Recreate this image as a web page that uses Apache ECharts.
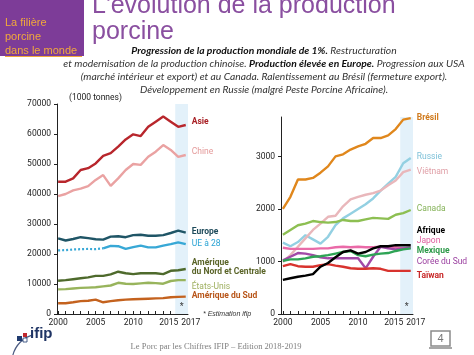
<!DOCTYPE html>
<html><head><meta charset="utf-8">
<script src="https://cdn.jsdelivr.net/npm/echarts@6/dist/echarts.min.js"></script>
<style>html,body{margin:0;padding:0;background:#fff;overflow:hidden}#c{width:474px;height:355px}</style>
</head><body><div id="c"></div>
<script>
// ---------- DATA ----------
const years = [2000,2001,2002,2003,2004,2005,2006,2007,2008,2009,2010,2011,2012,2013,2014,2015,2016,2017];
const xTickLabels = [2000,2005,2010,2015,2017];
// Left chart (1000 tonnes)
const leftNames = ['Asie','Chine','Europe','UE à 28','Amérique\ndu Nord et Centrale','États-Unis','Amérique du Sud'];
const asie   = [44100,44100,45200,48000,48600,50200,52700,53600,55800,58200,59900,59300,62400,64100,65800,64100,62400,63000];
const chine  = [39300,40000,41200,41800,42600,44700,46300,42700,45200,48000,50000,49700,52400,54100,56300,54700,52400,53000];
const europe = [25200,24500,25000,25600,25300,24900,24800,25800,25900,25600,26300,26400,26100,26100,26300,27000,27800,27100];
const ue28   = [21200,21300,21500,21600,21700,21600,21900,22700,22600,21700,22300,22800,22200,22200,22800,23300,23900,23300];
const amNord = [11100,11300,11600,11900,12200,12700,12700,13200,14100,13600,13300,13600,13600,13600,13300,14400,14600,15000];
const usa    = [8200,8300,8500,8700,8800,8900,9200,9500,10400,10100,10000,10200,10400,10300,10100,11000,11300,11300];
const amSud  = [3600,3600,3900,4300,4400,4800,3900,4300,4600,4800,4900,5000,5100,5200,5300,5600,5700,5800];
const leftTicks = [0,10000,20000,30000,40000,50000,60000,70000];
// Right chart (1000 tonnes)
const rightNames = ['Brésil','Russie','Viêtnam','Canada','Afrique','Japon','Mexique','Corée du Sud','Taïwan'];
const bresil  = [2000,2230,2560,2560,2590,2690,2810,3000,3040,3130,3190,3240,3350,3350,3400,3520,3700,3730];
const russie  = [1360,1290,1370,1500,1420,1340,1470,1690,1820,1910,2000,2090,2200,2350,2480,2610,2870,2970];
const vietnam = [990,1120,1280,1440,1600,1720,1850,1870,2050,2180,2230,2270,2300,2350,2450,2540,2700,2750];
const canada  = [1510,1600,1690,1720,1770,1750,1740,1750,1790,1770,1770,1800,1830,1820,1810,1890,1920,1980];
const afrique = [650,680,710,730,760,900,970,1080,1180,1210,1150,1180,1250,1290,1290,1310,1310,1310];
const japon   = [1260,1240,1240,1240,1240,1250,1250,1270,1280,1270,1280,1270,1270,1280,1280,1270,1250,1260];
const mexique = [1010,1040,1040,1060,1090,1100,1120,1150,1180,1200,1120,1100,1130,1150,1160,1200,1230,1250];
const coree   = [1020,1090,1160,1150,1120,1080,1060,1060,1060,1060,1060,870,1090,1280,1250,1230,1250,1260];
const taiwan  = [910,950,910,900,900,930,950,920,900,870,860,860,870,860,820,820,820,820];
const rightTicks = [0,1000,2000,3000];
const estimateBand = [2015.6, 2017.3];
// Texts
const titleLines = ["L'évolution de la production", 'porcine'];
const sectionLines = ['La filière', 'porcine', 'dans le monde'];
const unitLabel = '(1000 tonnes)';
const footnote = '* Estimation ifip';
const footer = 'Le Porc par les Chiffres IFIP – Edition 2018-2019';
const pageNum = '4';

// ---------- CHART ----------
const COND = "Roboto,'Liberation Sans',sans-serif";
const AX = 8.5;
const chart = echarts.init(document.getElementById('c'), null, {renderer:'canvas'});

function pairs(d){ return years.map((y,i)=>[y,d[i]]); }
function line(name, data, color, gi, lab){
  const s = {
    type:'line', name: name, xAxisIndex: gi, yAxisIndex: gi, data: data,
    symbol:'none', silent:true, animation:false,
    lineStyle:{color: color, width: 2.4, type: 'solid'}, itemStyle:{color: color},
    emphasis:{disabled:true}
  };
  if (lab) {
    s.endLabel = {show:true, formatter: name, color: lab.color, fontFamily: COND,
      fontSize: lab.size || 8.5, fontWeight: lab.bold ? 'bold' : 'normal',
      offset:[0, lab.dy || 0], distance: 6, lineHeight: 9, align:'left'};
  }
  return s;
}
function xAxis(gi, min, max){
  return {type:'value', gridIndex: gi, min: min, max: max,
    axisLine:{show:true, onZero:false, lineStyle:{color:'#222', width:1}},
    axisTick:{show:true, inside:true, length:3, customValues: years, lineStyle:{color:'#222'}},
    axisLabel:{customValues: xTickLabels, color:'#222', fontFamily: COND, fontSize: AX, margin: 4,
      formatter: v => v === 2017 ? '{r|2017}' : (v === 2015 ? '{l|2015}' : String(v)),
      rich:{r:{padding:[0,0,0,10], fontFamily: COND, fontSize: AX, color:'#222'},
            l:{padding:[0,4,0,0], fontFamily: COND, fontSize: AX, color:'#222'}}},
    splitLine:{show:false}};
}
function yAxis(gi, max, ticks, name){
  const a = {type:'value', gridIndex: gi, min:0, max: max,
    axisLine:{show:true, lineStyle:{color:'#222', width:1}},
    axisTick:{show:true, length:3, customValues: ticks, lineStyle:{color:'#222'}},
    axisLabel:{customValues: ticks, color:'#222', fontFamily: COND, fontSize: AX, margin: 6,
      formatter: v => String(v)},
    splitLine:{show:false}};
  if (name) {
    a.name = name; a.nameLocation = 'end'; a.nameGap = 2;
    a.nameTextStyle = {fontFamily: COND, fontSize: 8.5, color:'#222', align:'left', padding:[0,0,0,12]};
  }
  return a;
}
const band = (gi) => ({
  silent:true,
  itemStyle:{color:'#e3f1fa'},
  label:{show:true, position:'insideBottom', formatter:'*', color:'#333', fontSize:10, distance:2},
  data:[[{xAxis: estimateBand[0]},{xAxis: estimateBand[1]}]]
});

const ueDotted = pairs(ue28).slice(0,7);
const ueSolid = pairs(ue28).slice(6);

const series = [
  Object.assign(line('Asie', pairs(asie), '#b8262c', 0, {color:'#a82025', bold:true, dy:-3}), {markArea: band(0)}),
  line(leftNames[1], pairs(chine), '#eaa2a2', 0, {color:'#e49a9a', dy:-3}),
  line(leftNames[2], pairs(europe), '#1f5566', 0, {color:'#1d4a5a', bold:true, dy:-1}),
  Object.assign(line('UE à 28 dotted', ueDotted, '#38a8d6', 0, null), {lineStyle:{color:'#38a8d6', width:2.2, type:[2,2]}}),
  line(leftNames[3], ueSolid, '#38a8d6', 0, {color:'#2aa3d4'}),
  line(leftNames[4], pairs(amNord), '#4e6a2c', 0, {color:'#5a6428', bold:true, dy:-2}),
  line(leftNames[5], pairs(usa), '#98b45c', 0, {color:'#9fb060', dy:7}),
  line(leftNames[6], pairs(amSud), '#c4621e', 0, {color:'#b8561a', bold:true, dy:-1}),
  Object.assign(line(rightNames[0], pairs(bresil), '#e0871c', 1, {color:'#d07a1c', bold:true, dy:0}), {markArea: band(1)}),
  line(rightNames[1], pairs(russie), '#93d0e2', 1, {color:'#7ec1d8', dy:-1}),
  line(rightNames[2], pairs(vietnam), '#e9b7bb', 1, {color:'#e0a0a8', dy:2}),
  line(rightNames[3], pairs(canada), '#8dbf52', 1, {color:'#86b35a', dy:-1}),
  line(rightNames[5], pairs(japon), '#ea6aa8', 1, {color:'#e060a0', dy:-7}),
  line(rightNames[7], pairs(coree), '#a24aa8', 1, {color:'#9b40a0', dy:14}),
  line(rightNames[6], pairs(mexique), '#2ea455', 1, {color:'#2e9a4a', bold:true, dy:3}),
  line(rightNames[8], pairs(taiwan), '#d8332e', 1, {color:'#c82828', bold:true, dy:5}),
  line(rightNames[4], pairs(afrique), '#000000', 1, {color:'#000', bold:true, dy:-14}),
];

const SUBF = 10.3;
const subRich = {
  b:{fontFamily:'Lato', fontStyle:'italic', fontWeight:'bold', fontSize:SUBF, fill:'#111'},
  n:{fontFamily:'Lato', fontStyle:'italic', fontWeight:'normal', fontSize:SUBF, fill:'#333'}
};
const subLines = [
  '{b|Progression de la production mondiale de 1%.}{n| Restructuration}',
  '{n|et modernisation de la production chinoise. }{b|Production élevée en Europe.}{n| Progression aux USA}',
  '{n|(marché intérieur et export) et au Canada. Ralentissement au Brésil (fermeture export).}',
  '{n|Développement en Russie (malgré Peste Porcine Africaine).}'
];

const graphic = [
  {type:'rect', shape:{x:0,y:0,width:84,height:56}, style:{fill:'#7d3c98'}, silent:true},
  {type:'text', x:5, y:23, style:{text: sectionLines[0], font:'11px "Liberation Sans", Arial, sans-serif', fill:'#f2a93b', verticalAlign:'middle'}},
  {type:'text', x:5, y:37, style:{text: sectionLines[1], font:'11px "Liberation Sans", Arial, sans-serif', fill:'#f2a93b', verticalAlign:'middle'}},
  {type:'text', x:5, y:51, style:{text: sectionLines[2], font:'11px "Liberation Sans", Arial, sans-serif', fill:'#f2a93b', verticalAlign:'middle'}},
  {type:'line', shape:{x1:5,y1:56.5,x2:82,y2:56.5}, style:{stroke:'#f2a93b', lineWidth:1}},
  {type:'text', x:92, y:18.5, style:{text: titleLines[0], font:'25px "Liberation Sans", Arial, sans-serif', fill:'#8a4fa0', verticalAlign:'bottom'}},
  {type:'text', x:92, y:44.5, style:{text: titleLines[1], font:'25px "Liberation Sans", Arial, sans-serif', fill:'#8a4fa0', verticalAlign:'bottom'}},
  ...subLines.map((t,i)=>({type:'text', x:264, y:51 + i*12.8, style:{text:t, rich:subRich, align:'center', verticalAlign:'middle'}})),
  {type:'text', x:203, y:314, style:{text: footnote, font:'italic 7px "Liberation Sans", sans-serif', fill:'#333', verticalAlign:'middle'}},
  {type:'text', x:216, y:347, style:{text: footer, font:'8.5px "Liberation Serif", serif', fill:'#7f7f7f', align:'center', verticalAlign:'middle'}},
  // ifip logo
  {type:'arc', shape:{cx:40, cy:362, r:28, startAngle:Math.PI*1.08, endAngle:Math.PI*1.42}, style:{stroke:'#4a5a80', lineWidth:1.2, fill:null}},
  {type:'rect', shape:{x:17,y:336,width:5,height:5}, style:{fill:'#1f3a6e'}},
  {type:'rect', shape:{x:23,y:333,width:4,height:4}, style:{fill:'#c0282d'}},
  {type:'rect', shape:{x:23,y:338,width:4,height:4}, style:{fill:'#fff', stroke:'#1f3a6e', lineWidth:0.8}},
  {type:'text', x:30, y:334, style:{text:'ifip', font:'bold 15px "Liberation Sans", Arial, sans-serif', fill:'#1f3464', verticalAlign:'middle'}},
  // page number
  {type:'rect', shape:{x:431,y:331,width:19,height:15}, style:{fill:'#fff', stroke:'#8a8a8a', lineWidth:1.5}},
  {type:'line', shape:{x1:429,y1:348,x2:452,y2:348}, style:{stroke:'#8a8a8a', lineWidth:1.5}},
  {type:'text', x:440.5, y:338.5, style:{text: pageNum, font:'11px "Liberation Sans", Arial, sans-serif', fill:'#777', align:'center', verticalAlign:'middle'}}
];

chart.setOption({
  animation:false,
  backgroundColor:'#fff',
  grid:[
    {left:57, top:104, width:131, height:210},
    {left:281, top:117, width:132, height:197}
  ],
  xAxis:[xAxis(0, 1999.85, 2017.3), xAxis(1, 1999.75, 2017.3)],
  yAxis:[yAxis(0, 70000, leftTicks, unitLabel), yAxis(1, 3750, rightTicks, null)],
  series: series,
  graphic: graphic
});
</script>
</body></html>
